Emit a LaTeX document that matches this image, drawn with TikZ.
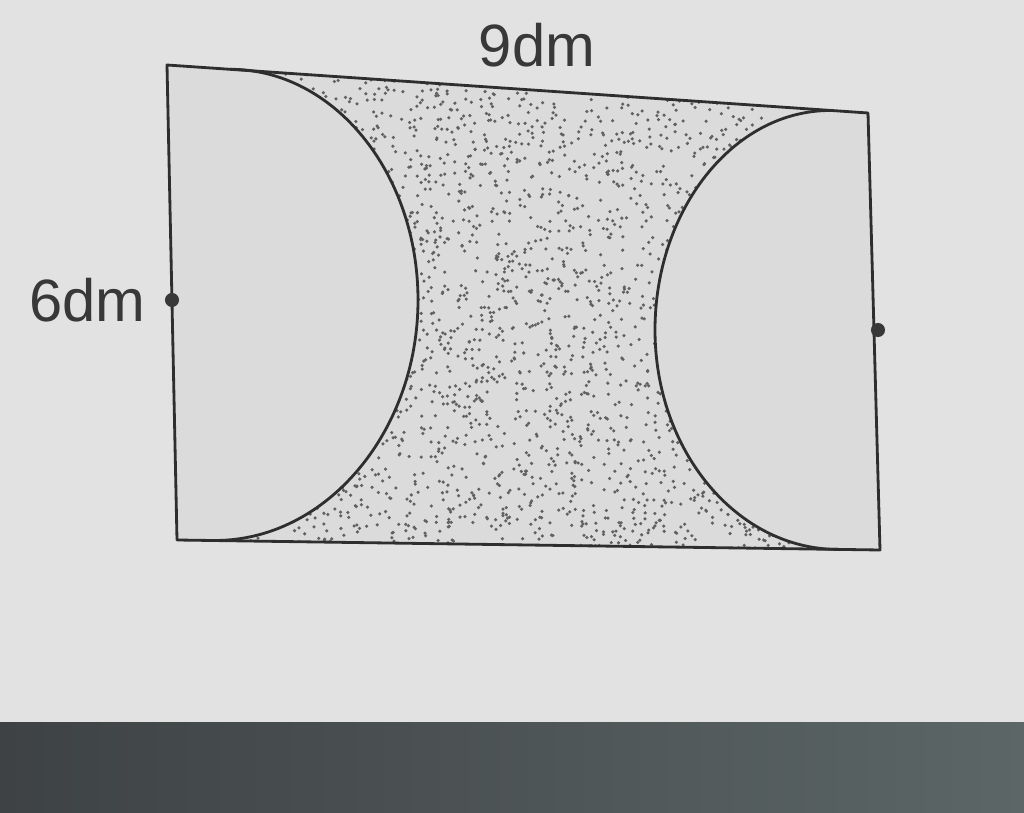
\documentclass[tikz,border=0pt]{standalone}
\usepackage{fontspec}
\setmainfont{Liberation Sans}
\begin{document}
\begin{tikzpicture}[x=0.02cm,y=-0.02cm,
  edge/.style={draw=black!82,line width=1.6pt,line join=round},
  lbl/.style={text=black!78,font=\fontsize{34}{36}\selectfont,inner sep=0pt},
  pin/.style={circle,fill=black!78,minimum size=8pt,inner sep=0pt}]
\definecolor{bg}{RGB}{226,226,226}
\definecolor{bandL}{RGB}{62,66,68}
\definecolor{bandR}{RGB}{92,102,102}
\useasboundingbox (0,0) rectangle (1024,813);
\fill[bg] (0,0) rectangle (1024,813);
\shade[left color=bandL,right color=bandR] (0,722) rectangle (1024,813);
% corners
\coordinate (A) at (167,65);
\coordinate (B) at (868,113);
\coordinate (C) at (880,550);
\coordinate (D) at (177,540);
\coordinate (L1) at (230,69.3);
\coordinate (L2) at (418,300);
\coordinate (L3) at (215,540.5);
\coordinate (R1) at (830,110.5);
\coordinate (R2) at (655,330);
\coordinate (R3) at (838,549.4);
\fill[black!3!bg] (A) -- (B) -- (C) -- (D) -- cycle;
% dotted region
\begin{scope}
\clip (L1) -- (R1) .. controls (733,110.5) and (655,210) .. (R2)
      .. controls (655,451) and (737,549.4) .. (R3) -- (L3)
      .. controls (327,540.5) and (418,431) .. (L2)
      .. controls (418,173) and (334,69.3) .. (L1) -- cycle;
\fill[black!14] (150,50) rectangle (900,560);
\pgfmathsetseed{7}
\foreach \i in {1,...,3200}{
  \pgfmathsetmacro\xx{220+rnd*630}
  \pgfmathsetmacro\yy{65+rnd*490}
  \fill[black!62] (\xx,\yy) circle (1.0pt);
}
\end{scope}
\draw[edge] (A) -- (B) -- (C) -- (D) -- cycle;
\draw[edge] (L1) .. controls (334,69.3) and (418,173) .. (L2)
      .. controls (418,431) and (327,540.5) .. (L3);
\draw[edge] (R1) .. controls (733,110.5) and (655,210) .. (R2)
      .. controls (655,451) and (737,549.4) .. (R3);
\node[pin] (pl) at (172,300) {};
\node[pin] (pr) at (878,330) {};
\node[lbl] (top) at (537,45) {9dm};
\node[lbl,anchor=east] (side) at (146,300) {6dm};
\end{tikzpicture}
\end{document}
